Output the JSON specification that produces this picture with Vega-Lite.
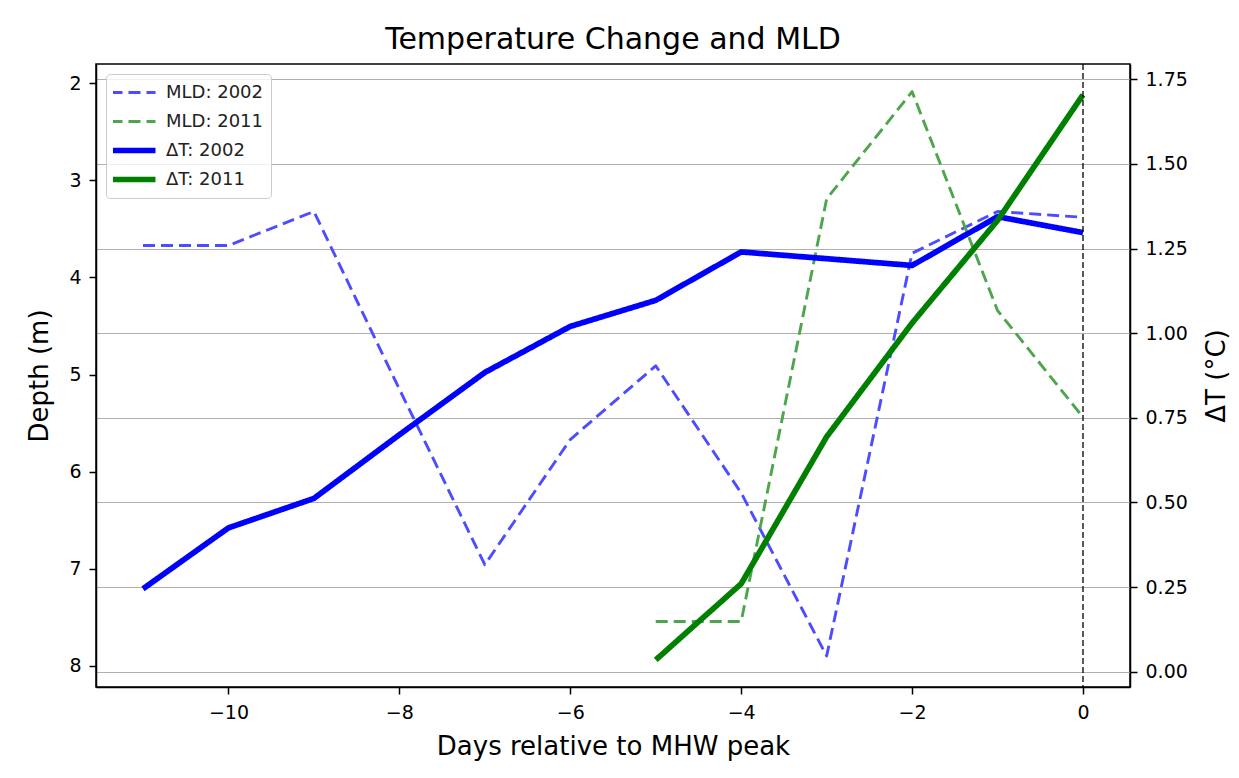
{
  "$schema": "https://vega.github.io/schema/vega-lite/v6.json",
  "width": 1034,
  "height": 623,
  "autosize": {"type": "none"},
  "padding": {"left": 96, "top": 64, "right": 109, "bottom": 91},
  "background": "white",
  "title": {"text": "Temperature Change and MLD", "fontSize": 30, "fontWeight": "normal", "color": "black", "font": "DejaVu Sans", "anchor": "middle", "frame": "group", "offset": 12, "baseline": "alphabetic", "dy": 28},
  "data": {"values": [
    {"day": -11, "series": "MLD: 2002", "kind": "MLD", "value": 3.67},
    {"day": -10, "series": "MLD: 2002", "kind": "MLD", "value": 3.67},
    {"day": -9, "series": "MLD: 2002", "kind": "MLD", "value": 3.32},
    {"day": -8, "series": "MLD: 2002", "kind": "MLD", "value": 5.15},
    {"day": -7, "series": "MLD: 2002", "kind": "MLD", "value": 6.96},
    {"day": -6, "series": "MLD: 2002", "kind": "MLD", "value": 5.67},
    {"day": -5, "series": "MLD: 2002", "kind": "MLD", "value": 4.91},
    {"day": -4, "series": "MLD: 2002", "kind": "MLD", "value": 6.22},
    {"day": -3, "series": "MLD: 2002", "kind": "MLD", "value": 7.9},
    {"day": -2, "series": "MLD: 2002", "kind": "MLD", "value": 3.75},
    {"day": -1, "series": "MLD: 2002", "kind": "MLD", "value": 3.32},
    {"day": 0, "series": "MLD: 2002", "kind": "MLD", "value": 3.38},
    {"day": -5, "series": "MLD: 2011", "kind": "MLD", "value": 7.545},
    {"day": -4, "series": "MLD: 2011", "kind": "MLD", "value": 7.545},
    {"day": -3, "series": "MLD: 2011", "kind": "MLD", "value": 3.19},
    {"day": -2, "series": "MLD: 2011", "kind": "MLD", "value": 2.085},
    {"day": -1, "series": "MLD: 2011", "kind": "MLD", "value": 4.34},
    {"day": 0, "series": "MLD: 2011", "kind": "MLD", "value": 5.44},
    {"day": -11, "series": "ΔT: 2002", "kind": "dT", "value": 0.245},
    {"day": -10, "series": "ΔT: 2002", "kind": "dT", "value": 0.425},
    {"day": -9, "series": "ΔT: 2002", "kind": "dT", "value": 0.512},
    {"day": -8, "series": "ΔT: 2002", "kind": "dT", "value": 0.7},
    {"day": -7, "series": "ΔT: 2002", "kind": "dT", "value": 0.884},
    {"day": -6, "series": "ΔT: 2002", "kind": "dT", "value": 1.02},
    {"day": -5, "series": "ΔT: 2002", "kind": "dT", "value": 1.097},
    {"day": -4, "series": "ΔT: 2002", "kind": "dT", "value": 1.24},
    {"day": -3, "series": "ΔT: 2002", "kind": "dT", "value": 1.22},
    {"day": -2, "series": "ΔT: 2002", "kind": "dT", "value": 1.2},
    {"day": -1, "series": "ΔT: 2002", "kind": "dT", "value": 1.344},
    {"day": 0, "series": "ΔT: 2002", "kind": "dT", "value": 1.297},
    {"day": -5, "series": "ΔT: 2011", "kind": "dT", "value": 0.035},
    {"day": -4, "series": "ΔT: 2011", "kind": "dT", "value": 0.26},
    {"day": -3, "series": "ΔT: 2011", "kind": "dT", "value": 0.694},
    {"day": -2, "series": "ΔT: 2011", "kind": "dT", "value": 1.03},
    {"day": -1, "series": "ΔT: 2011", "kind": "dT", "value": 1.333},
    {"day": 0, "series": "ΔT: 2011", "kind": "dT", "value": 1.704}
  ]},
  "layer": [
    {
      "transform": [{"filter": "datum.kind === 'MLD'"}],
      "mark": {"type": "line", "strokeCap": "butt", "strokeJoin": "round", "strokeWidth": 2.9},
      "encoding": {
        "x": {"field": "day", "type": "quantitative", "scale": {"domain": [-11.55, 0.55], "nice": false, "zero": false},
              "axis": {"values": [-10, -8, -6, -4, -2, 0], "format": "d", "title": "Days relative to MHW peak", "grid": false, "labelPadding": 9, "titlePadding": 11}},
        "y": {"field": "value", "type": "quantitative", "scale": {"domain": [1.8, 8.22], "reverse": true, "nice": false, "zero": false},
              "axis": {"orient": "left", "values": [2, 3, 4, 5, 6, 7, 8], "format": "d", "title": "Depth (m)", "grid": false, "labelPadding": 8, "titlePadding": 16}},
        "color": {"field": "series", "type": "nominal", "scale": {"domain": ["MLD: 2002", "MLD: 2011", "ΔT: 2002", "ΔT: 2011"], "range": ["#4d4dff", "#4da64d", "#0000ff", "#008000"]},
                  "legend": {"title": null, "encode": {"symbols": {"update": {"strokeWidth": {"signal": "test(/MLD/, datum.value) ? 2.9 : 5.7"}}}}}},
        "strokeDash": {"field": "series", "type": "nominal", "scale": {"domain": ["MLD: 2002", "MLD: 2011", "ΔT: 2002", "ΔT: 2011"], "range": [[12, 6], [12, 6], [1, 0], [1, 0]]}, "legend": {"title": null}}
      }
    },
    {
      "transform": [{"filter": "datum.kind === 'dT'"}],
      "mark": {"type": "line", "strokeCap": "butt", "strokeJoin": "round", "strokeWidth": 5.7},
      "encoding": {
        "x": {"field": "day", "type": "quantitative"},
        "y": {"field": "value", "type": "quantitative", "scale": {"domain": [-0.045, 1.795], "nice": false, "zero": false},
              "axis": {"orient": "right", "values": [0, 0.25, 0.5, 0.75, 1.0, 1.25, 1.5, 1.75], "format": ".2f", "title": "ΔT (°C)", "titleAngle": 270, "grid": true, "gridColor": "#b0b0b0", "gridWidth": 1.2, "labelPadding": 8, "titlePadding": 42}},
        "color": {"field": "series", "type": "nominal", "legend": {"title": null}},
        "strokeDash": {"field": "series", "type": "nominal", "legend": {"title": null}}
      }
    },
    {
      "data": {"values": [{"day": 0}]},
      "mark": {"type": "rule", "color": "black", "strokeDash": [6, 3], "strokeWidth": 1.3},
      "encoding": {"x": {"field": "day", "type": "quantitative"}}
    }
  ],
  "resolve": {"scale": {"y": "independent"}, "axis": {"y": "independent"}},
  "config": {
    "font": "DejaVu Sans",
    "view": {"stroke": "black", "strokeWidth": 1.5},
    "axis": {"domainColor": "black", "domainWidth": 1.5, "tickColor": "black", "tickWidth": 1.5, "tickSize": 7, "labelFontSize": 19, "labelColor": "black", "labelFont": "DejaVu Sans", "titleFont": "DejaVu Sans", "titleFontSize": 26, "titleFontWeight": "normal", "titleColor": "black", "labelPadding": 5},
    "legend": {"orient": "top-left", "offset": 10, "padding": 7, "strokeColor": "#cccccc", "fillColor": "rgba(255,255,255,0.8)", "cornerRadius": 4, "labelFontSize": 18, "labelColor": "#222222", "labelFont": "DejaVu Sans", "symbolType": "stroke", "symbolSize": 2025, "symbolStrokeWidth": 2.9, "symbolOffset": 11, "labelOffset": 24, "clipHeight": 23, "rowPadding": 6}
  }
}
